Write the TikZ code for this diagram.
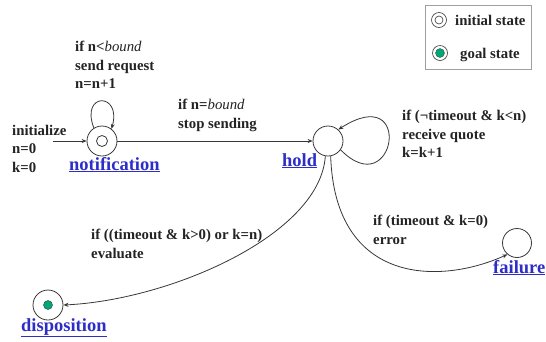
\documentclass[tikz,border=0pt]{standalone}
\usepackage{fontspec}
\setmainfont{Liberation Serif}
\usetikzlibrary{arrows.meta}
\definecolor{ink}{RGB}{35,35,35}
\definecolor{edge}{RGB}{55,55,55}
\definecolor{linkblue}{RGB}{45,45,200}
\definecolor{goalgreen}{RGB}{0,168,120}
\newcommand{\bnd}{{\mdseries\itshape bound}}
\tikzset{
  lbl/.style={anchor=north west, inner sep=0pt, align=left, text=ink,
    font=\bfseries\fontsize{14.8}{18.5}\selectfont},
  head/.style={anchor=base west, inner sep=0pt, text=linkblue,
    font=\bfseries\fontsize{18.5}{20}\selectfont},
  state/.style={circle, draw=edge, line width=0.8pt, minimum size=30pt, inner sep=0pt},
  arr/.style={draw=edge, line width=0.8pt, -{Stealth[length=5pt,width=4pt]}},
}
\begin{document}
\begin{tikzpicture}[x=1pt,y=-1pt]
\useasboundingbox (0,0) rectangle (546,341);
% states
\node[state] (notif) at (102,141) {};
\node[circle, draw=edge, line width=0.8pt, minimum size=11pt, inner sep=0pt] (notifin) at (notif.center) {};
\node[state] (hold) at (328,141) {};
\node[state, minimum size=29pt] (fail) at (517,243) {};
\node[state] (disp) at (48,305) {};
\node[circle, fill=goalgreen, draw=edge, line width=0.4pt, minimum size=9pt, inner sep=0pt] (dispin) at (disp.center) {};
% state names
\node[head] (notifname) at (69,170) {\underline{notification}};
\node[head] (holdname) at (282,166) {\underline{hold}};
\node[head] (dispname) at (21,331) {\underline{disposition}};
\node[head] (failname) at (493,273) {\underline{failure}};
% connectors
\coordinate (initc) at (53,141);
\draw[arr] (initc) -- (notif);
\draw[arr] (notif.122) .. controls (80,92) and (122,92) .. (notif.52);
\draw[arr] (notif) -- (hold);
\draw[arr] (hold.-35) .. controls (395,205) and (415,80) .. (hold.48);
\draw[arr] (hold.-100) .. controls (320,235) and (170,300) .. (disp.east);
\draw[arr] (hold.-80) .. controls (335,285) and (440,285) .. (fail.-130);
% labels
\node[lbl] (linit) at (12,125) {initialize\\n=0\\k=0};
\node[lbl] (lsend) at (75,41) {if n<\bnd\\send request\\n=n+1};
\node[lbl] (lstop) at (178,99) {if n=\bnd\\stop sending};
\node[lbl] (lrecv) at (402,110) {if (¬timeout \& k<n)\\receive quote\\k=k+1};
\node[lbl] (leval) at (91,229) {if ((timeout \& k>0) or k=n)\\evaluate};
\node[lbl] (lerr) at (373,215) {if (timeout \& k=0)\\error};
% legend
\node[draw=gray!75, line width=0.8pt, minimum width=106pt, minimum height=64pt, inner sep=0pt] (legend) at (478,37) {};
\node[circle, draw=edge, line width=0.6pt, minimum size=15pt, inner sep=0pt] (lginit) at (439,20) {};
\node[circle, draw=edge, line width=0.6pt, minimum size=8pt, inner sep=0pt] (lginitin) at (lginit.center) {};
\node[circle, draw=edge, line width=0.6pt, minimum size=15pt, inner sep=0pt] (lggoal) at (440,53) {};
\node[circle, fill=goalgreen, draw=edge, line width=0.3pt, minimum size=9pt, inner sep=0pt] (lggoalin) at (lggoal.center) {};
\node[lbl, anchor=base west] (lginitt) at (455,25) {initial state};
\node[lbl, anchor=base west] (lggoalt) at (460,58) {goal state};
\end{tikzpicture}
\end{document}
